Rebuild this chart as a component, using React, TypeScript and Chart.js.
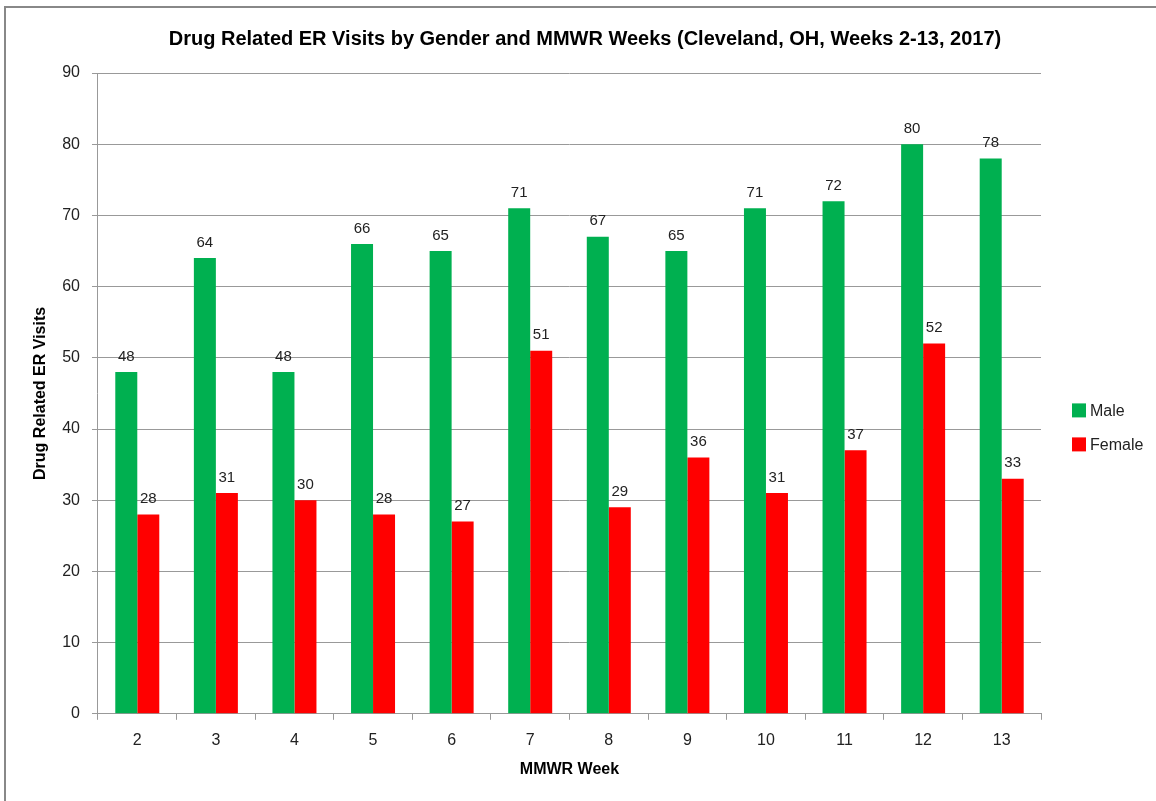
import React, { useEffect, useRef } from "react";
import { Chart, registerables } from "chart.js";

Chart.register(...registerables);

const weeks = ["2", "3", "4", "5", "6", "7", "8", "9", "10", "11", "12", "13"];
const maleVisits = [48, 64, 48, 66, 65, 71, 67, 65, 71, 72, 80, 78];
const femaleVisits = [28, 31, 30, 28, 27, 51, 29, 36, 31, 37, 52, 33];

const FONT = "'Liberation Sans', Arial, sans-serif";

const framePlugin = {
  id: "frame",
  beforeDraw(chart: any) {
    const ctx = chart.ctx;
    ctx.save();
    ctx.fillStyle = "#ffffff";
    ctx.fillRect(0, 0, chart.width, chart.height);
    ctx.strokeStyle = "#888888";
    ctx.lineWidth = 2;
    ctx.strokeRect(5, 7, chart.width + 20, chart.height + 20);
    ctx.restore();
  },
};

const valueLabels = {
  id: "valueLabels",
  afterDatasetsDraw(chart: any) {
    const ctx = chart.ctx;
    ctx.save();
    ctx.font = `15px ${FONT}`;
    ctx.fillStyle = "#222222";
    ctx.textAlign = "center";
    ctx.textBaseline = "bottom";
    chart.data.datasets.forEach((ds: any, i: number) => {
      const meta = chart.getDatasetMeta(i);
      meta.data.forEach((el: any, j: number) => {
        ctx.fillText(String(ds.data[j]), el.x, el.y - 8);
      });
    });
    ctx.restore();
  },
};

const sideLegend = {
  id: "sideLegend",
  afterDraw(chart: any) {
    const ctx = chart.ctx;
    const area = chart.chartArea;
    const x = area.right + 31;
    const midY = (area.top + area.bottom) / 2 + 34;
    const gap = 34;
    ctx.save();
    ctx.font = `16px ${FONT}`;
    ctx.textBaseline = "middle";
    ctx.textAlign = "left";
    chart.data.datasets.forEach((ds: any, i: number) => {
      const cy = midY - gap / 2 + i * gap;
      ctx.fillStyle = ds.backgroundColor;
      ctx.fillRect(x, cy - 7, 14, 14);
      ctx.fillStyle = "#222222";
      ctx.fillText(ds.label, x + 18, cy + 1);
    });
    ctx.restore();
  },
};

const xTitle = {
  id: "xTitle",
  afterDraw(chart: any) {
    const ctx = chart.ctx;
    const area = chart.chartArea;
    ctx.save();
    ctx.font = `bold 16px ${FONT}`;
    ctx.fillStyle = "#000000";
    ctx.textAlign = "center";
    ctx.textBaseline = "middle";
    ctx.fillText("MMWR Week", (area.left + area.right) / 2, area.bottom + 56);
    ctx.restore();
  },
};

export default function App() {
  const ref = useRef<HTMLCanvasElement>(null);
  useEffect(() => {
    if (!ref.current) return;
    const chart = new Chart(ref.current, {
      type: "bar",
      data: {
        labels: weeks,
        datasets: [
          { label: "Male", data: maleVisits, backgroundColor: "#00B050" },
          { label: "Female", data: femaleVisits, backgroundColor: "#FF0000" },
        ],
      },
      options: {
        animation: false,
        responsive: false,
        maintainAspectRatio: false,
        layout: { padding: { left: 14, right: 0, top: 0, bottom: 40 } },
        datasets: { bar: { categoryPercentage: 0.56, barPercentage: 1 } },
        plugins: {
          title: {
            display: true,
            text: "Drug Related ER Visits by Gender and MMWR Weeks (Cleveland, OH, Weeks 2-13, 2017)",
            color: "#000",
            font: { family: FONT, size: 20, weight: "bold" },
            padding: { top: 27, bottom: 22 },
          },
          legend: { display: false },
          tooltip: { enabled: false },
        },
        scales: {
          x: {
            grid: {
              display: true,
              drawOnChartArea: false,
              drawTicks: true,
              tickLength: 6,
              color: "#999",
              offset: true,
            },
            border: { color: "#999", width: 1 },
            ticks: { color: "#222", font: { family: FONT, size: 16 }, padding: 11 },
          },
          y: {
            min: 0,
            max: 90,
            ticks: { stepSize: 10, color: "#222", font: { family: FONT, size: 16 }, padding: 12 },
            grid: { color: "#999", tickLength: 6 },
            border: { color: "#999", width: 1 },
            title: {
              display: true,
              text: "Drug Related ER Visits",
              color: "#000",
              font: { family: FONT, size: 16, weight: "bold" },
              padding: { top: 17, bottom: 0 },
            },
          },
          legendSpace: {
            type: "linear",
            position: "right",
            min: 0,
            max: 1,
            grid: { display: false, drawTicks: false },
            border: { display: false },
            ticks: { display: false },
            afterFit: (scale: any) => {
              scale.width = 115;
            },
          },
        },
      },
      plugins: [framePlugin, valueLabels, sideLegend, xTitle],
    });
    return () => chart.destroy();
  }, []);
  return (
    <div style={{ position: "absolute", left: 0, top: 0, width: 1156, height: 801 }}>
      <canvas ref={ref} width={1156} height={801} />
    </div>
  );
}
